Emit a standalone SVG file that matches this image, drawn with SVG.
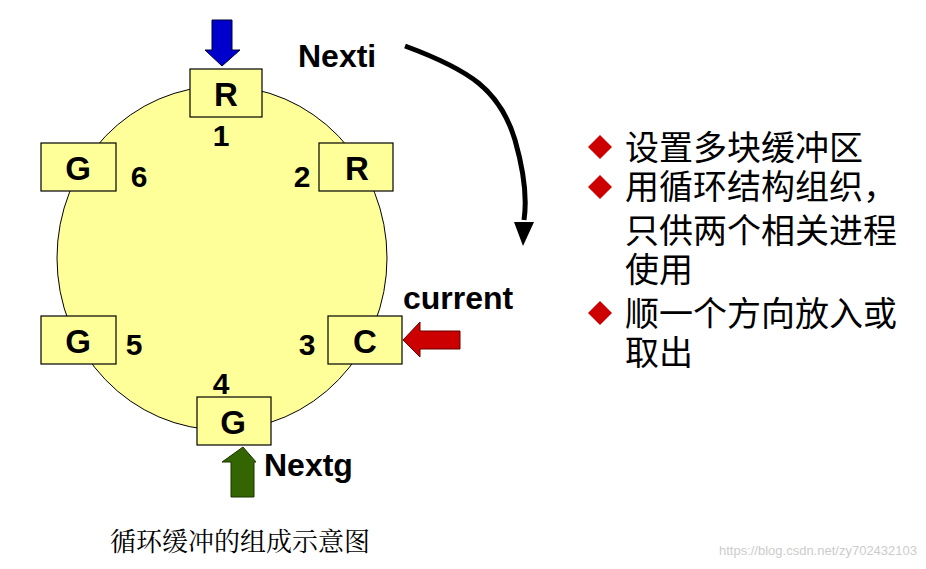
<svg xmlns="http://www.w3.org/2000/svg" width="926" height="569" viewBox="0 0 926 569">
<style>
.box{fill:#ffff99;stroke:#000;stroke-width:1.2}
.bl{font-family:"Liberation Sans",Arial,sans-serif;font-weight:bold;font-size:33px;text-anchor:middle;fill:#000}
.num{font-family:"Liberation Sans",Arial,sans-serif;font-weight:bold;font-size:30px;text-anchor:middle;fill:#000}
.lab{font-family:"Liberation Sans",Arial,sans-serif;font-weight:bold;font-size:32px;fill:#000}
.cn{font-family:"Noto Sans CJK SC",sans-serif;font-size:34px;fill:#000}
</style>
<rect width="926" height="569" fill="#fff"/>
<ellipse cx="222" cy="258" rx="165" ry="172" fill="#ffff99" stroke="#000" stroke-width="1"/>
<g id="n1"><rect class="box" x="190" y="69" width="72" height="48"/><text class="bl" x="226" y="106">R</text><text class="num" x="221" y="146">1</text></g>
<g id="n2"><rect class="box" x="319" y="143" width="74" height="48"/><text class="bl" x="357" y="180">R</text><text class="num" x="302" y="187">2</text></g>
<g id="n3"><rect class="box" x="328" y="316" width="74" height="48"/><text class="bl" x="365" y="353">C</text><text class="num" x="307" y="355">3</text></g>
<g id="n4"><rect class="box" x="197" y="397" width="74" height="48"/><text class="bl" x="233" y="434">G</text><text class="num" x="221" y="394">4</text></g>
<g id="n5"><rect class="box" x="41" y="316" width="75" height="48"/><text class="bl" x="78" y="353">G</text><text class="num" x="134" y="355">5</text></g>
<g id="n6"><rect class="box" x="41" y="143" width="75" height="48"/><text class="bl" x="78" y="180">G</text><text class="num" x="139" y="187">6</text></g>
<g id="connectors">
<polygon points="212,20 232,20 232,50 240,50 222,66 205,50 212,50" fill="#0000cc" stroke="#000033" stroke-width="1"/>
<polygon points="460,331 420,331 420,322 403,340 420,357 420,349 460,349" fill="#cc0000" stroke="#660000" stroke-width="1"/>
<polygon points="231,497 254,497 254,462 256,462 243,447 222,462 231,462" fill="#336600" stroke="#1a3300" stroke-width="1"/>
<path d="M405,46 C470,70 500,90 515,140 C525,175 527,200 524,220" fill="none" stroke="#000" stroke-width="5"/>
<polygon points="514,222 534,222 523,246" fill="#000"/>
</g>
<text class="lab" x="298" y="67">Nexti</text>
<text class="lab" x="403" y="309">current</text>
<text class="lab" x="264" y="476" font-size="26">Nextg</text>
<g fill="#cc0000">
<polygon points="600,135 612,147 600,159 588,147"/>
<polygon points="600,175 612,187 600,199 588,187"/>
<polygon points="600,301 612,313 600,325 588,313"/>
</g>
<text class="cn" x="625" y="160">设置多块缓冲区</text>
<text class="cn" x="625" y="199">用循环结构组织，</text>
<text class="cn" x="625" y="243">只供两个相关进程</text>
<text class="cn" x="625" y="282">使用</text>
<text class="cn" x="625" y="326">顺一个方向放入或</text>
<text class="cn" x="625" y="365">取出</text>
<text x="110" y="551" font-family="Noto Serif CJK SC,Noto Sans CJK SC,serif" font-size="26" fill="#000">循环缓冲的组成示意图</text>
<text x="917" y="555" font-family="Liberation Sans,sans-serif" font-size="13" fill="#cccccc" text-anchor="end">https://blog.csdn.net/zy702432103</text>
</svg>
